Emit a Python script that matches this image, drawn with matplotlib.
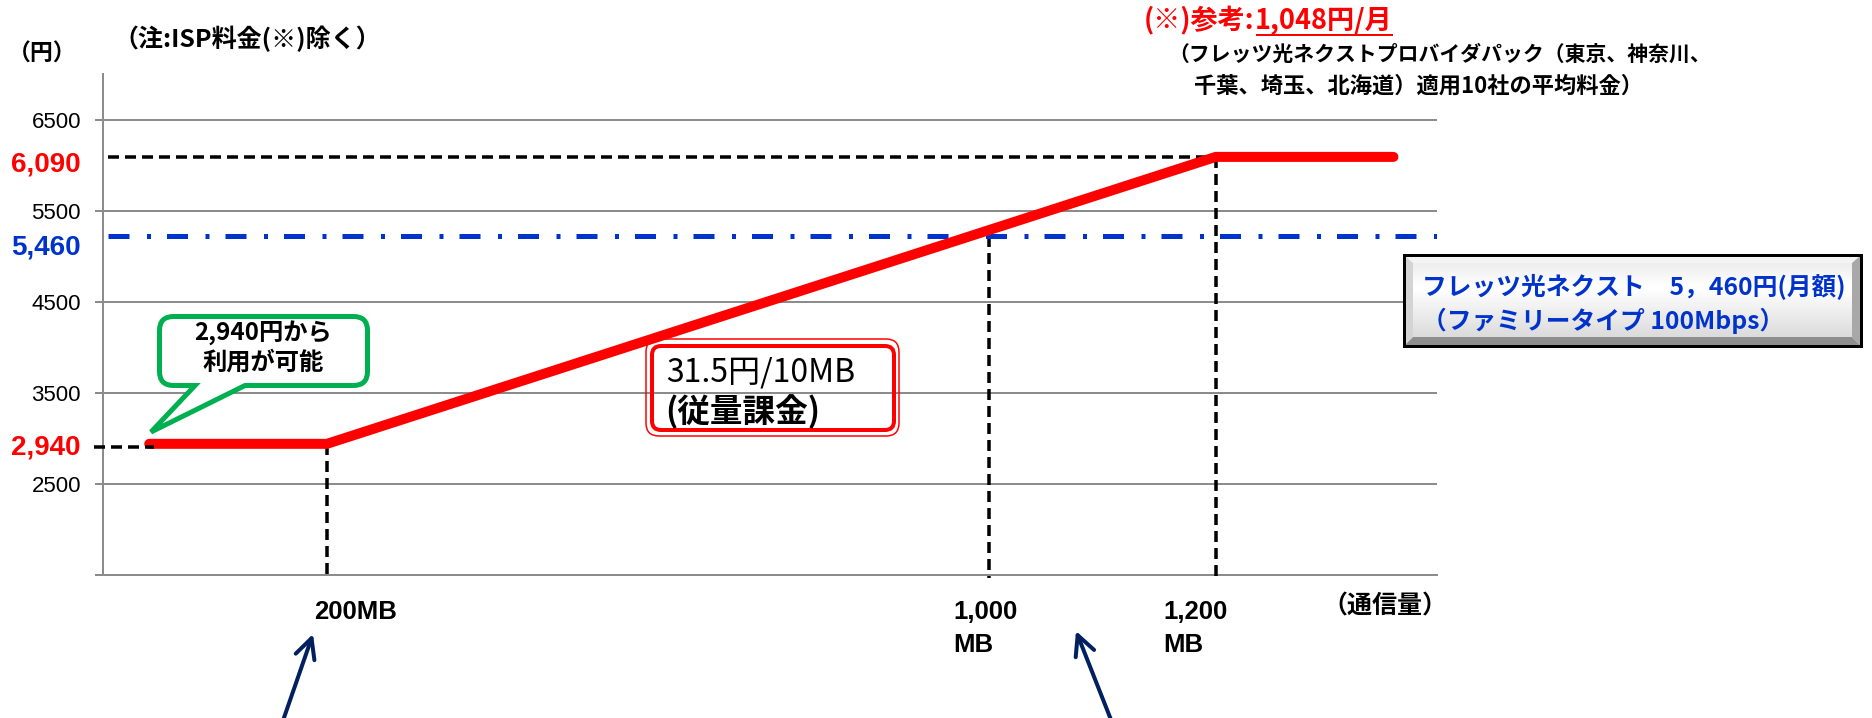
import matplotlib
matplotlib.use("Agg")
import matplotlib.pyplot as plt
import matplotlib.transforms as mtransforms
from matplotlib.patches import PathPatch, FancyBboxPatch, Polygon, FancyArrowPatch
from matplotlib.lines import Line2D
from matplotlib.path import Path
import numpy as np

plt.rcParams['font.family'] = ['Noto Sans CJK JP', 'DejaVu Sans']
plt.rcParams['lines.scale_dashes'] = False

# ---------------- data ----------------
usage_mb = [0, 200, 1200, 1400]            # 通信量 (MB)
price_yen = [2940, 2940, 6090, 6090]       # 月額料金 (円)
y_ticks = [6500, 5500, 4500, 3500, 2500]
y_tick_labels = ["6500", "5500", "4500", "3500", "2500"]
start_price = 2940
cap_price = 6090
flat_rate_level = 5225                     # height of the flat-rate (5,460円) line in the schematic original
key_levels = [cap_price, flat_rate_level, start_price]
key_labels = ["6,090", "5,460", "2,940"]
key_colors = ["#FF0000", "#0033CC", "#FF0000"]
x_marks = [200, 945, 1200]                 # 200MB / 1,000MB / 1,200MB markers (schematic axis)
x_mark_tops = [start_price, flat_rate_level, cap_price]
x_mark_labels = ["200MB", "1,000\nMB", "1,200\nMB"]

# ---------------- layout helpers ----------------
W, H, DPI = 1872, 718, 100
fig = plt.figure(figsize=(W / DPI, H / DPI), dpi=DPI)
fig.patch.set_facecolor('white')
IDT = mtransforms.IdentityTransform()


def fx(px):
    return px / W


def fy(py):
    return 1 - py / H


def pt(px):
    return px * 72 / DPI


def disp(x, y):
    return (x, H - y)


LATIN = ['Liberation Sans', 'DejaVu Sans']
GRAY = '#8C8C8C'
RED = '#FF0000'
BLUE = '#0033CC'
GREEN = '#00B050'
NAVY = '#002060'

AX_L, AX_R, AX_T, AX_B = 103, 1437, 74, 575
ax = fig.add_axes([fx(AX_L), fy(AX_B), fx(AX_R) - fx(AX_L), fy(AX_T) - fy(AX_B)])
ax.set_xlim(-52, 1449)
ax.set_ylim(1500, 7000)
ax.patch.set_alpha(0)
for s in ['top', 'right']:
    ax.spines[s].set_visible(False)
for s in ['left', 'bottom']:
    ax.spines[s].set_color(GRAY)
    ax.spines[s].set_linewidth(pt(2))
ax.set_yticks(y_ticks + [1500])
ax.set_yticklabels(y_tick_labels + [""], fontfamily=LATIN, fontsize=16)
ax.tick_params(axis='y', length=pt(8), width=pt(2), color=GRAY, pad=pt(14))
ax.set_xticks([])
ax.grid(axis='y', color=GRAY, linewidth=pt(2))
ax.set_axisbelow(True)

mbpx = (ax.get_xlim()[1] - ax.get_xlim()[0]) / (AX_R - AX_L)
ypx = (ax.get_ylim()[1] - ax.get_ylim()[0]) / (AX_B - AX_T)
x0, x1 = ax.get_xlim()

# ---------------- guide lines ----------------
blk = dict(color='black', lw=pt(3.5), dashes=(pt(11), pt(6)), dash_capstyle='butt',
           clip_on=False, zorder=3)
ax.plot([x0 + 5 * mbpx, usage_mb[2]], [cap_price, cap_price], **blk)
ax.plot([x0 - 9 * mbpx, usage_mb[0] + 5 * mbpx], [start_price - 3 * ypx] * 2,
        **dict(blk, zorder=6))
ybot = ax.get_ylim()[0] - 3 * ypx
for xm, top in zip(x_marks, x_mark_tops):
    ax.plot([xm, xm], [top, ybot], **blk)

ax.plot([x0 + 5 * mbpx, x1], [flat_rate_level, flat_rate_level], color=BLUE, lw=pt(5),
        dashes=(pt(21), pt(17.5), pt(4), pt(16)), dash_capstyle='butt', zorder=3)

# ---------------- main price line ----------------
ax.plot(usage_mb, price_yen, color=RED, lw=pt(10), solid_capstyle='round',
        solid_joinstyle='miter', zorder=5)

# ---------------- key price labels on y axis ----------------
for lv, lab, c, off in zip(key_levels, key_labels, key_colors, [-8, -12, -4]):
    ax.annotate(lab, xy=(0, lv), xycoords=('axes fraction', 'data'),
                xytext=(pt(-22), pt(off)), textcoords='offset points',
                ha='right', va='center', color=c, fontsize=20, fontweight='bold',
                fontfamily=LATIN, annotation_clip=False)

# ---------------- x marker labels ----------------
for xm, lab, off in zip(x_marks, x_mark_labels, [-13, -36, -52]):
    for i, line in enumerate(lab.split("\n")):
        ax.annotate(line, xy=(xm, 0), xycoords=('data', 'axes fraction'),
                    xytext=(pt(off), pt(-37 - 33 * i)), textcoords='offset points',
                    ha='left', va='center', fontsize=18.5, fontweight='bold',
                    fontfamily=LATIN, annotation_clip=False)

fig.text(fx(1322), fy(607), "（通信量）", fontsize=18, fontweight='bold',
         ha='left', va='center')

# ---------------- top texts ----------------
fig.text(fx(8), fy(54), "（円）", fontsize=16.5, fontweight='bold', ha='left', va='center')
fig.text(fx(113), fy(39), "（注:ISP料金(※)除く）", fontsize=18, fontweight='bold',
         ha='left', va='center')

renderer = fig.canvas.get_renderer()
t1 = fig.text(fx(1144), fy(21), "(※)参考:", color=RED, fontsize=19.5, fontweight='bold',
              ha='left', va='center')
bb1 = t1.get_window_extent(renderer)
t2 = fig.text(bb1.x1 / W, fy(21), "1,048円/月", color=RED, fontsize=19.5, fontweight='bold',
              ha='left', va='center')
bb2 = t2.get_window_extent(renderer)
fig.add_artist(Line2D([bb2.x0 + 2, bb2.x1], [H - 35, H - 35], color=RED, lw=pt(2),
                      transform=IDT))
fig.text(fx(1168), fy(54), "（フレッツ光ネクストプロバイダパック（東京、神奈川、",
         fontsize=15, fontweight='bold', ha='left', va='center')
fig.text(fx(1194), fy(86), "千葉、埼玉、北海道）適用10社の平均料金）",
         fontsize=16, fontweight='bold', ha='left', va='center')

# ---------------- green callout ----------------
L, R, T, B, r = 159.5, 367.5, 316.5, 385.5, 14
tail_a, tail_b, tip = 195, 245, (151, 432)
pts = [
    (L + r, T, Path.MOVETO), (R - r, T, Path.LINETO),
    (R, T, Path.CURVE3), (R, T + r, Path.CURVE3),
    (R, B - r, Path.LINETO),
    (R, B, Path.CURVE3), (R - r, B, Path.CURVE3),
    (tail_b, B, Path.LINETO), (tip[0], tip[1], Path.LINETO), (tail_a, B, Path.LINETO),
    (L + r, B, Path.LINETO),
    (L, B, Path.CURVE3), (L, B - r, Path.CURVE3),
    (L, T + r, Path.LINETO),
    (L, T, Path.CURVE3), (L + r, T, Path.CURVE3),
    (L + r, T, Path.CLOSEPOLY),
]
verts = [disp(p[0], p[1]) for p in pts]
codes = [p[2] for p in pts]
fig.add_artist(PathPatch(Path(verts, codes), facecolor='white', edgecolor=GREEN,
                         lw=pt(5), joinstyle='miter', transform=IDT, zorder=7))
fig.text(fx(263), fy(333), "2,940円から", fontsize=17.5, fontweight='bold',
         ha='center', va='center', zorder=8)
fig.text(fx(263), fy(363), "利用が可能", fontsize=17.5, fontweight='bold',
         ha='center', va='center', zorder=8)

# ---------------- red double box ----------------
for (bx0, by0, bx1, by1, rr, lw) in [(646, 339, 899, 436, 13, 1.5), (652, 346, 894, 430, 9, 4)]:
    fig.add_artist(FancyBboxPatch(disp(bx0, by1), bx1 - bx0, by1 - by0,
                                  boxstyle=f"round,pad=0,rounding_size={rr}",
                                  facecolor='none', edgecolor=RED, lw=pt(lw),
                                  transform=IDT, zorder=7))
fig.text(fx(666), fy(373), "31.5円/10MB", fontsize=23, ha='left', va='center', zorder=8)
fig.text(fx(665), fy(412), "(従量課金)", fontsize=23.5, fontweight='bold',
         ha='left', va='center', zorder=8)

# ---------------- blue beveled box ----------------
OX0, OY0, OX1, OY1 = 1404, 255, 1861, 346
FX0, FY0, FX1, FY1 = 1413, 263, 1852, 337
bevels = [
    ([(OX0, OY0), (OX1, OY0), (FX1, FY0), (FX0, FY0)], '#F4F4F4'),
    ([(OX0, OY0), (FX0, FY0), (FX0, FY1), (OX0, OY1)], '#D4D4D4'),
    ([(OX1, OY0), (OX1, OY1), (FX1, FY1), (FX1, FY0)], '#A8A8A8'),
    ([(OX0, OY1), (FX0, FY1), (FX1, FY1), (OX1, OY1)], '#8E8E8E'),
]
for poly, col in bevels:
    fig.add_artist(Polygon([disp(*p) for p in poly], closed=True, facecolor=col,
                           edgecolor='none', transform=IDT, zorder=7))
gax = fig.add_axes([fx(FX0), fy(FY1), fx(FX1) - fx(FX0), fy(FY0) - fy(FY1)], zorder=7.5)
grad = np.concatenate([np.linspace(0.93, 1.0, 20), np.linspace(1.0, 0.86, 40)])[:, None]
gax.imshow(np.repeat(grad, 2, axis=1), cmap='gray', vmin=0, vmax=1, aspect='auto',
           extent=[0, 1, 0, 1], origin='upper')
gax.set_axis_off()
fig.add_artist(FancyBboxPatch(disp(OX0, OY1), OX1 - OX0, OY1 - OY0,
                              boxstyle="square,pad=0", facecolor='none',
                              edgecolor='black', lw=pt(3), transform=IDT, zorder=9))
fig.text(fx(1422), fy(287), "フレッツ光ネクスト　5，460円(月額)", color=BLUE,
         fontsize=17.8, fontweight='bold', ha='left', va='center', zorder=10)
fig.text(fx(1422), fy(321), "（ファミリータイプ 100Mbps）", color=BLUE,
         fontsize=17.8, fontweight='bold', ha='left', va='center', zorder=10)

# ---------------- navy arrows ----------------
for (sx, sy), (tx, ty) in [((278, 735), (313, 634)), ((1117, 735), (1076, 631))]:
    fig.add_artist(FancyArrowPatch(disp(sx, sy), disp(tx, ty),
                                   arrowstyle='->,head_length=0.9,head_width=0.45',
                                   mutation_scale=pt(22), color=NAVY, lw=pt(4),
                                   capstyle='round', joinstyle='round',
                                   shrinkA=0, shrinkB=0, transform=IDT, zorder=10))

fig.savefig('out.png', dpi=DPI, facecolor='white')
